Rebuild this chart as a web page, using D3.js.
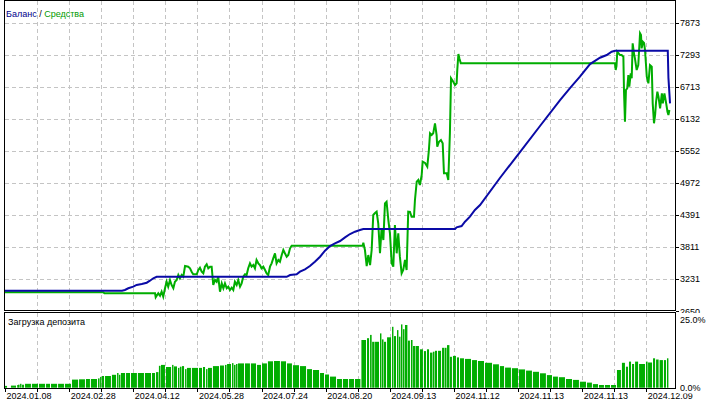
<!DOCTYPE html>
<html><head><meta charset="utf-8">
<script src="https://cdn.jsdelivr.net/npm/d3@7/dist/d3.min.js"></script>
<style>
body{margin:0;background:#fff}
text{font-family:"Liberation Sans",Arial,sans-serif;font-size:9px;fill:#000}
</style>
</head><body><svg id="c" width="720" height="405"></svg>
<script>
// ---------- DATA ----------
const dateLabels = ["2024.01.08","2024.02.28","2024.04.12","2024.05.28","2024.07.24","2024.08.20","2024.09.13","2024.11.12","2024.11.13","2024.11.13","2024.12.09"];
const dateTickIdx = [0,40,80,120,160,200,240,280,320,360,400];
const yTicks = [2650,3231,3811,4391,4972,5552,6132,6713,7293,7873];
const loadTicks = [0,25];

// balance: [deal index, value]
const balance = [[0,3024],[73,3024],[74.8,3037],[76.9,3068],[80,3097],[82.1,3128],[85.3,3146],[88.4,3169],[90.4,3205],[92.5,3249],[94.6,3275],[175.7,3275],[177.8,3308],[181.9,3321],[184,3368],[187.1,3411],[190.2,3471],[193.3,3549],[196.5,3639],[199.6,3748],[202.7,3833],[205.8,3882],[209,3923],[212.1,3990],[215.2,4050],[218.3,4092],[221.4,4123],[223.5,4141],[280.7,4141],[281.7,4171],[284.8,4195],[286.9,4273],[290,4363],[293.1,4484],[296.3,4575],[308.7,5063],[321.2,5533],[333.7,6004],[346.2,6474],[352.4,6691],[358.6,6896],[364.9,7125],[371.1,7239],[375.3,7288],[378.4,7348],[380.5,7366],[413.4,7366],[413.8,6877],[414.8,6414]];

// equity: [deal index, value]
const equity = [[0,2995],[61.3,2995],[62,2977],[93.6,2977],[94,2905],[95.6,2977],[96.7,2934],[97.7,3006],[98.7,2916],[99.8,3068],[100.8,3187],[101.8,3097],[102.9,3218],[103.9,3128],[105,3068],[106,3187],[107.1,3218],[108.1,3308],[109.1,3249],[110.2,3308],[111.2,3278],[112.3,3471],[114.3,3459],[115.4,3430],[116.4,3368],[117.4,3321],[119.6,3321],[120.6,3399],[121.6,3440],[122.7,3368],[123.7,3339],[124.7,3459],[125.8,3502],[126.8,3430],[127.9,3459],[128.9,3459],[129.9,3128],[131,3218],[132,3187],[133,3278],[134.1,3006],[135.2,3158],[136.2,3068],[137.2,3158],[138.3,3068],[139.3,3097],[140.3,3037],[141.4,3079],[142.4,3037],[143.4,3187],[144.5,3128],[145.5,3218],[146.6,3097],[147.6,3158],[148.6,3278],[149.7,3321],[150.7,3308],[151.7,3430],[152.8,3520],[153.8,3459],[154.9,3489],[155.9,3430],[156.9,3580],[158,3520],[159,3489],[160,3430],[161.1,3459],[162.2,3399],[163.2,3339],[164.2,3308],[165.3,3459],[166.3,3520],[167.3,3610],[168.4,3701],[169.4,3520],[170.5,3580],[171.5,3549],[172.6,3670],[173.6,3761],[174.6,3701],[175.7,3639],[176.7,3670],[177.8,3791],[178.8,3839],[223.1,3839],[223.5,3893],[224.5,3761],[225.6,3471],[226.6,3670],[227.7,3489],[228.7,3761],[229.7,4394],[230.8,4430],[231.8,4453],[232.8,4244],[233.9,3701],[234.9,4153],[236,3941],[237,4605],[238,4634],[239.1,4303],[240.1,4063],[241.2,3520],[242.2,3459],[243.2,4213],[244.3,3701],[245.3,4063],[246.3,3640],[247.4,3339],[248.4,3399],[249.5,3580],[250.5,3399],[251.5,4453],[252.6,4448],[253.6,4363],[255.1,4363],[255.7,4665],[256.8,4996],[257.8,5027],[258.8,4937],[259.9,5117],[260.5,5358],[262,5335],[263.4,5268],[264.4,5570],[265.1,5872],[266.1,5841],[267.1,5872],[268.2,6053],[269.2,5841],[269.6,5630],[270.7,5720],[271.9,5751],[273,5691],[273.8,5148],[275.5,5148],[276.5,5027],[277.5,5872],[278.2,6867],[279.6,6805],[280.7,6746],[281.7,6776],[282.1,7017],[282.8,7306],[283.4,7229],[284.3,7138],[380.5,7138],[380.9,7017],[381.4,7089],[381.9,7348],[383.6,7288],[384.6,7288],[385.7,7257],[386.1,6624],[386.7,6082],[387.3,6655],[388.1,6686],[388.8,6926],[389.4,6715],[390.3,6957],[390.9,6867],[391.5,7500],[392.3,7319],[392.9,7229],[394,7017],[395,7107],[396.1,7681],[396.7,7650],[397.1,7409],[397.8,7529],[398.6,7505],[399.2,7379],[400.3,6896],[401.3,6776],[402.3,7107],[403.4,7077],[404,6414],[404.8,6053],[405.5,6203],[406.1,6443],[406.9,6624],[407.6,6534],[408.6,6324],[409.7,6595],[410.3,6414],[411.3,6595],[412.4,6414],[413.2,6262],[413.8,6203],[414.4,6293]];

// deposit load: bar start (deal index) and load in %
const loadStart = [0,1.9,3.7,7.5,8.1,9.4,10.6,12.5,16.8,21.2,25.6,28.7,33.1,37.4,41.8,46.2,50.5,53.6,58.0,59.3,60.5,62.4,66.7,69.9,71.1,72.3,75.5,78.6,82.9,87.3,91.7,94.2,96.0,97.3,100.4,104.2,105.4,107.9,109.1,110.4,112.3,113.5,116.6,121.0,123.5,125.4,126.6,129.7,134.1,137.2,138.5,141.6,142.8,144.1,145.3,149.7,153.4,157.2,160.3,164.0,167.8,172.1,175.9,179.6,184.0,188.4,192.1,196.5,199.6,202.7,207.1,210.8,214.6,218.3,222.3,225.8,227.7,229.0,230.8,233.9,235.1,236.4,238.3,241.4,242.6,244.5,245.7,247.0,248.2,249.5,251.3,253.2,254.5,256.3,258.8,261.3,263.2,265.1,266.9,268.2,270.1,272.6,274.4,275.7,277.5,279.4,281.9,283.8,286.9,291.3,295.0,299.4,304.4,308.7,311.9,316.2,320.6,325.0,329.3,333.7,338.0,341.8,345.5,349.9,354.3,358.6,363.0,366.7,370.5,374.2,378.0,381.7,384.8,387.3,389.2,391.1,393.0,395.5,399.8,401.1,404.2,406.1,408.3,411.0,412.9];
const loadValue = [0.6,0,0.7,0.9,1.0,1.3,1.0,1.3,1.3,1.3,1.3,1.3,1.3,1.3,2.7,2.8,2.9,2.9,3.1,3.6,3.9,3.9,4.3,4.9,4.3,4.9,4.9,4.9,4.9,4.9,4.9,5.2,7.3,7.6,6.9,7.6,7.1,6.6,7.0,7.2,6.2,6.6,6.6,6.6,6.9,6.2,6.6,7.2,7.4,7.6,7.9,8.2,7.6,7.9,8.1,8.1,8.1,7.6,8.1,8.8,8.9,8.8,8.1,7.5,7.2,6.2,5.9,4.9,4.4,3.7,2.9,2.9,2.9,2.9,15.9,16.5,17.6,15.3,15.3,18.1,16.1,15.3,16.8,20.3,17.2,19.2,17.0,21.1,19.5,20.9,15.7,15.9,13.9,13.9,12.8,12.2,12.8,11.7,12.0,12.3,12.3,13.3,13.3,14.2,10.3,10.6,10.1,9.8,9.6,9.2,8.9,8.3,7.8,7.2,6.7,6.5,6.1,5.7,5.3,4.8,4.2,3.7,3.5,2.9,2.6,2.0,1.7,1.2,0.9,0.9,0.9,5.9,8.3,7.0,8.7,7.9,8.7,7.9,8.7,8.4,9.8,9.4,9.2,9.2,9.8];
const loadEnd = 414.1;

// ---------- LAYOUT ----------
const svg = d3.select("#c");
const L = 4.5, R = 675.5, T = 0.5, MB = 310.5, LT = 312.5, LB = 388.5;
const blue = "#0a0aa6", green = "#00ad00", grid = "#c4c4c4";

const x = d3.scaleLinear().domain([0, 400]).range([5, 646.3]);
const y = d3.scaleLinear().domain([2650, 7873]).range([311.4, 22.7]);
const yl = d3.scaleLinear().domain([0, 25]).range([387.7, 312.7]);

svg.append("rect").attr("width",720).attr("height",405).attr("fill","#fff");

// vertical gridlines (every 20 deals)
const vg = d3.range(20, 401, 20);
[[T, MB],[LT, LB]].forEach(([a,b])=>{
  svg.append("g").selectAll("line").data(vg).join("line")
    .attr("x1",d=>Math.round(x(d))+0.5).attr("x2",d=>Math.round(x(d))+0.5)
    .attr("y1",a).attr("y2",b)
    .attr("stroke",grid).attr("stroke-dasharray","4,3").attr("shape-rendering","crispEdges");
});
// horizontal gridlines
svg.append("g").selectAll("line").data(yTicks.slice(1)).join("line")
  .attr("x1",L).attr("x2",R)
  .attr("y1",d=>Math.round(y(d))+0.5).attr("y2",d=>Math.round(y(d))+0.5)
  .attr("stroke",grid).attr("stroke-dasharray","4,3").attr("shape-rendering","crispEdges");

// load bars
const bars = loadStart.map((s,i)=>({s, e: i<loadStart.length-1 ? loadStart[i+1] : loadEnd, v: loadValue[i]}));
svg.append("g").selectAll("rect").data(bars.filter(d=>d.v>0)).join("rect")
  .attr("x", d=>x(d.s))
  .attr("width", d=>{const w = x(d.e)-x(d.s); return Math.max(0.8, w>3 ? w-1 : w-0.5);})
  .attr("y", d=>yl(d.v))
  .attr("height", d=>yl(0)-yl(d.v))
  .attr("fill", green);

// lines
const line = d3.line().x(d=>x(d[0])).y(d=>y(d[1])).curve(d3.curveLinear);
svg.append("path").datum(equity).attr("d",line).attr("fill","none")
  .attr("stroke",green).attr("stroke-width",2).attr("stroke-linejoin","miter");
svg.append("path").datum(balance).attr("d",line).attr("fill","none")
  .attr("stroke",blue).attr("stroke-width",2).attr("stroke-linejoin","miter");

// frames
svg.append("rect").attr("x",L).attr("y",T).attr("width",R-L).attr("height",MB-T)
  .attr("fill","none").attr("stroke","#000").attr("shape-rendering","crispEdges");
svg.append("rect").attr("x",L).attr("y",LT).attr("width",R-L).attr("height",LB-LT)
  .attr("fill","none").attr("stroke","#000").attr("shape-rendering","crispEdges");

// right axis (main)
const ra = svg.append("g");
ra.selectAll("line").data(yTicks).join("line")
  .attr("x1",R).attr("x2",R+3).attr("y1",d=>Math.round(y(d))+0.5).attr("y2",d=>Math.round(y(d))+0.5)
  .attr("stroke","#000").attr("shape-rendering","crispEdges");
ra.selectAll("text").data(yTicks).join("text")
  .attr("x",680).attr("y",d=>y(d)).attr("dy","0.35em").text(d=>d);

// white cover of the lower right axis area
svg.append("rect").attr("x",676).attr("y",313).attr("width",44).attr("height",10).attr("fill","#fff");
svg.append("text").attr("x",680).attr("y",yl(25)+7).attr("dy","0.35em").text(d3.format(".1f")(loadTicks[1])+"%");

// bottom axis ticks + labels
const bt = svg.append("g");
bt.selectAll("line").data(d3.range(0,401,20)).join("line")
  .attr("x1",d=>Math.round(x(d))+0.5).attr("x2",d=>Math.round(x(d))+0.5)
  .attr("y1",LB).attr("y2",LB+3).attr("stroke","#000").attr("shape-rendering","crispEdges");
bt.selectAll("text").data(dateTickIdx).join("text")
  .attr("x",d=>x(d)+1.5).attr("y",399).text((d,i)=>dateLabels[i]);

svg.append("rect").attr("x",678).attr("y",383).attr("width",42).attr("height",10.5).attr("fill","#fff");
svg.append("text").attr("x",680).attr("y",yl(0)).attr("dy","0.35em").text(d3.format(".1f")(loadTicks[0])+"%");

// legend
const lg = svg.append("text").attr("x",6).attr("y",17);
lg.append("tspan").style("fill","#00008b").text("Баланс");
lg.append("tspan").style("fill","#000").text(" / ");
lg.append("tspan").style("fill","#009a00").text("Средства");

svg.append("text").attr("x",8).attr("y",324.5).text("Загрузка депозита");
</script></body></html>
